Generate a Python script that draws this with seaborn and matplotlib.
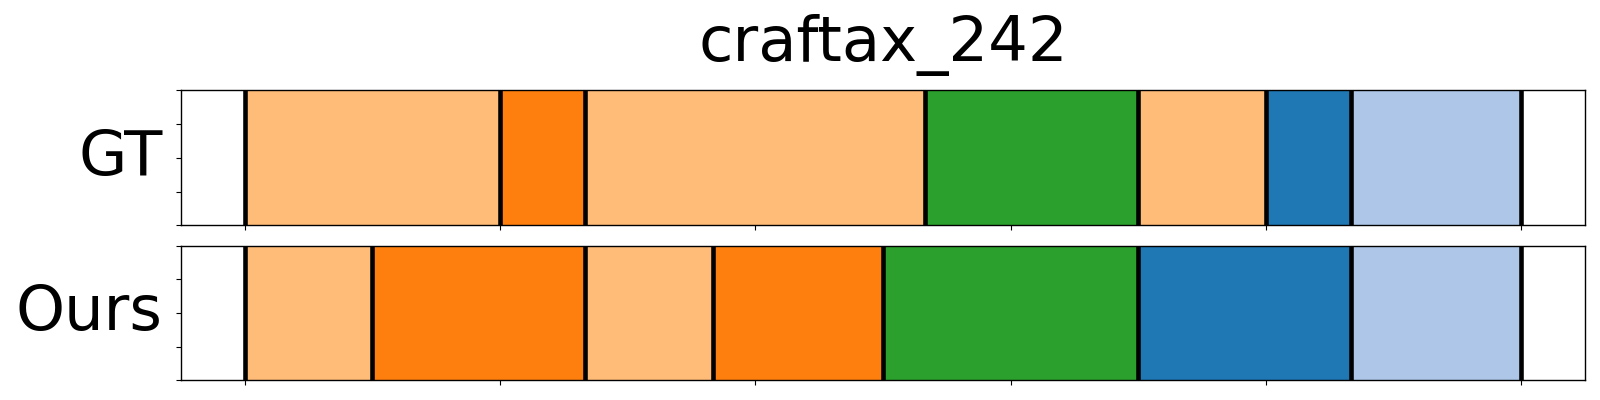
import numpy as np
import matplotlib
matplotlib.use("Agg")
import matplotlib.pyplot as plt
import seaborn as sns

# segment boundaries (frames) and action labels per row
gt_bounds = [0, 60, 80, 160, 210, 240, 260, 300]
gt_labels = [1, 2, 1, 3, 1, 0, 4]
ours_bounds = [0, 30, 80, 110, 150, 210, 260, 300]
ours_labels = [1, 2, 1, 2, 3, 0, 4]
row_names = ["GT", "Ours"]
title = "craftax_242"

sns.set_style("ticks", rc={"axes.edgecolor": "black", "xtick.color": "black",
                           "ytick.color": "black", "text.color": "black",
                           "axes.labelcolor": "black"})
plt.rcParams['font.family'] = ['DejaVu Sans']

tab = sns.color_palette("tab20")
# label -> colour (tab20 pairs)
cmap = {0: tab[0], 4: tab[1], 2: tab[2], 1: tab[3], 3: tab[4]}

fig, axes = plt.subplots(2, 1, figsize=(16, 4), dpi=100)
fig.subplots_adjust(left=0.113, right=0.9906, top=0.774, bottom=0.049, hspace=0.151)

for ax, name, bounds, labels in zip(axes, row_names,
                                    [gt_bounds, ours_bounds],
                                    [gt_labels, ours_labels]):
    b = np.array(bounds)
    starts, widths = b[:-1], np.diff(b)
    ax.barh(0.5, widths, left=starts, height=1.0,
            color=[cmap[l] for l in labels], linewidth=0)
    for x in b:
        ax.axvline(x, color="black", lw=3.3)
    pad = 0.05 * (b[-1] - b[0])
    ax.set_xlim(b[0] - pad, b[-1] + pad)
    ax.set_ylim(0, 1)
    ax.set_yticks([0, 0.25, 0.5, 0.75, 1.0])
    ax.set_yticklabels([])
    ax.set_xticks(np.arange(0, b[-1] + 1, 60))
    ax.set_xticklabels([])
    ax.set_ylabel(name, rotation=0, fontsize=45, ha="right", va="center", labelpad=6)
    for s in ax.spines.values():
        s.set_visible(True)
        s.set_linewidth(1.0)

axes[0].set_title(title, fontsize=45, pad=21)

fig.savefig("out.png", dpi=100)
